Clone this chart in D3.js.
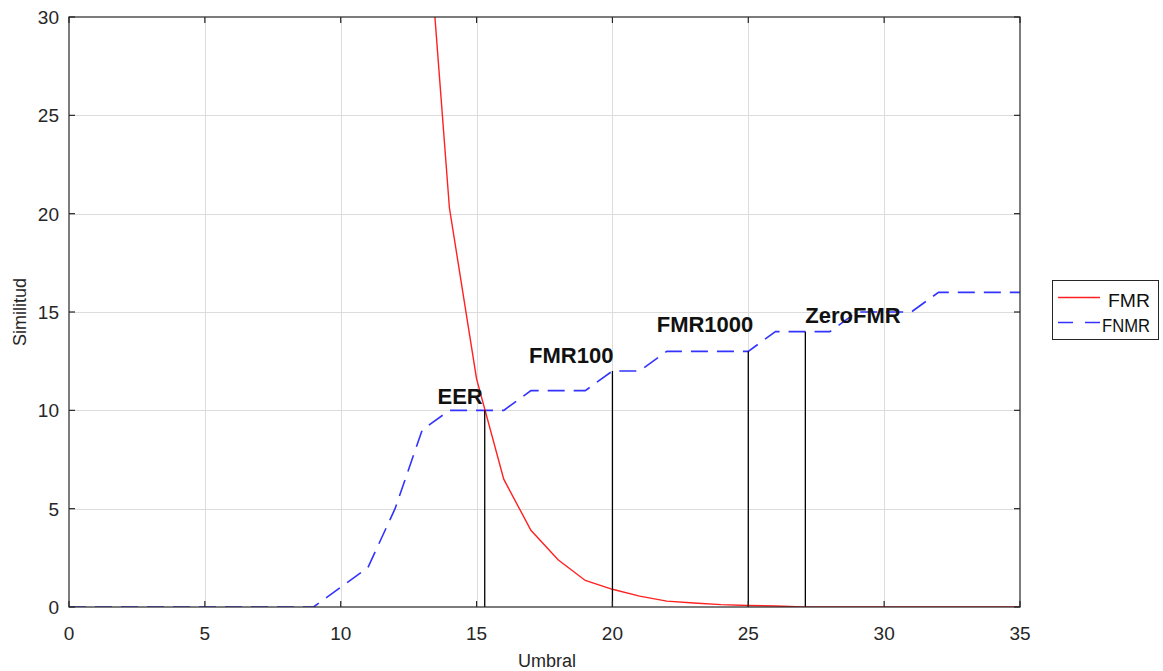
<!DOCTYPE html>
<html>
<head>
<meta charset="utf-8">
<script src="https://cdn.jsdelivr.net/npm/d3@7"></script>
<style>
  html, body { margin: 0; padding: 0; background: #fff; }
  svg { display: block; }
</style>
</head>
<body>
<svg id="chart" width="1163" height="671"></svg>
<script>
// Threshold sweep (Umbral) and error-rate curves
const fmrThresholds = [13, 14, 15, 16, 17, 18, 19, 20, 21, 22, 23, 24, 25, 26, 27, 28, 29, 30, 31, 32, 33, 34, 35];
const fmrValues     = [38.5, 20.3, 11.6, 6.5, 3.9, 2.4, 1.35, 0.9, 0.55, 0.3, 0.2, 0.12, 0.08, 0.05, 0, 0, 0, 0, 0, 0, 0, 0, 0];

const fnmrThresholds = [0, 1, 2, 3, 4, 5, 6, 7, 8, 9, 10, 11, 12, 13, 14, 15, 16, 17, 18, 19, 20, 21, 22, 23, 24, 25, 26, 27, 28, 29, 30, 31, 32, 33, 34, 35];
const fnmrValues     = [0, 0, 0, 0, 0, 0, 0, 0, 0, 0, 1, 2, 5, 9, 10, 10, 10, 11, 11, 11, 12, 12, 13, 13, 13, 13, 14, 14, 14, 15, 15, 15, 16, 16, 16, 16];

// Operating points: threshold, height of the marker line, label text and label height
const markerNames  = ["EER", "FMR100", "FMR1000", "ZeroFMR"];
const markerX      = [15.3, 20, 25, 27.1];
const markerTop    = [10, 12, 13, 14];
const markerLabelY = [10.3, 12.4, 14.0, 14.45];

const xTicks = [0, 5, 10, 15, 20, 25, 30, 35];
const yTicks = [0, 5, 10, 15, 20, 25, 30];
const seriesNames = ["FMR", "FNMR"];

const svg = d3.select("#chart");
const m = { left: 69, right: 1020, top: 17, bottom: 607 };
const axisColor = "#262626";
const fontFam = "'Liberation Sans', Arial, Helvetica, sans-serif";

const x = d3.scaleLinear().domain([0, 35]).range([m.left, m.right]);
const y = d3.scaleLinear().domain([0, 30]).range([m.bottom, m.top]);

svg.append("defs").append("clipPath").attr("id", "plot-clip")
  .append("rect").attr("x", m.left).attr("y", m.top)
  .attr("width", m.right - m.left).attr("height", m.bottom - m.top);

// Grid
const grid = svg.append("g").attr("stroke", "#dcdcdc").attr("stroke-width", 1);
grid.selectAll("line.gx").data(xTicks.slice(1, -1)).join("line")
  .attr("x1", d => Math.round(x(d)) + 0.5).attr("x2", d => Math.round(x(d)) + 0.5)
  .attr("y1", m.top).attr("y2", m.bottom);
grid.selectAll("line.gy").data(yTicks.slice(1, -1)).join("line")
  .attr("y1", d => Math.round(y(d)) + 0.5).attr("y2", d => Math.round(y(d)) + 0.5)
  .attr("x1", m.left).attr("x2", m.right);

const plot = svg.append("g").attr("clip-path", "url(#plot-clip)");

// FNMR dashed
const fnmrLine = d3.line().x((d, i) => x(fnmrThresholds[i])).y(d => y(d));
plot.append("path").datum(fnmrValues)
  .attr("d", fnmrLine).attr("fill", "none")
  .attr("stroke", "#3333ff").attr("stroke-width", 1.6)
  .attr("stroke-dasharray", "17,9");

// FMR solid
const fmrLine = d3.line().x((d, i) => x(fmrThresholds[i])).y(d => y(d));
plot.append("path").datum(fmrValues)
  .attr("d", fmrLine).attr("fill", "none")
  .attr("stroke", "#ff2020").attr("stroke-width", 1.4);

// Operating point markers
const markers = svg.append("g");
markerNames.forEach((name, i) => {
  markers.append("line")
    .attr("x1", x(markerX[i])).attr("x2", x(markerX[i]))
    .attr("y1", y(0)).attr("y2", y(markerTop[i]))
    .attr("stroke", "#000").attr("stroke-width", 1.3);
  const anchor = name === "ZeroFMR" ? "start" : "end";
  const dx = name === "ZeroFMR" ? 0 : (name === "FMR1000" ? 5 : (name === "EER" ? -2 : 1));
  markers.append("text")
    .attr("x", x(markerX[i]) + dx).attr("y", y(markerLabelY[i]))
    .attr("text-anchor", anchor)
    .attr("font-family", fontFam).attr("font-weight", "bold")
    .attr("font-size", 22).attr("fill", "#111")
    .text(name);
});

// Axes box with inward ticks on all sides
const axes = svg.append("g").attr("stroke", axisColor).attr("stroke-width", 1.2).attr("fill", "none");
axes.append("rect").attr("x", m.left).attr("y", m.top)
  .attr("width", m.right - m.left).attr("height", m.bottom - m.top);
const tl = 6;
xTicks.forEach(t => {
  axes.append("line").attr("x1", x(t)).attr("x2", x(t)).attr("y1", m.bottom).attr("y2", m.bottom - tl);
  axes.append("line").attr("x1", x(t)).attr("x2", x(t)).attr("y1", m.top).attr("y2", m.top + tl);
});
yTicks.forEach(t => {
  axes.append("line").attr("x1", m.left).attr("x2", m.left + tl).attr("y1", y(t)).attr("y2", y(t));
  axes.append("line").attr("x1", m.right).attr("x2", m.right - tl).attr("y1", y(t)).attr("y2", y(t));
});

// Tick labels
const labels = svg.append("g").attr("font-family", fontFam).attr("font-size", 19).attr("fill", axisColor);
labels.selectAll("text.xt").data(xTicks).join("text")
  .attr("x", d => x(d)).attr("y", m.bottom + 33)
  .attr("text-anchor", "middle").text(d => d);
labels.selectAll("text.yt").data(yTicks).join("text")
  .attr("x", m.left - 10).attr("y", d => y(d) + 7)
  .attr("text-anchor", "end").text(d => d);

// Axis titles
svg.append("text").attr("x", 547).attr("y", 667)
  .attr("text-anchor", "middle").attr("font-family", fontFam).attr("font-size", 18)
  .attr("fill", axisColor).text("Umbral");
svg.append("text").attr("transform", `translate(26,${(m.top + m.bottom) / 2}) rotate(-90)`)
  .attr("text-anchor", "middle").attr("font-family", fontFam).attr("font-size", 18)
  .attr("fill", axisColor).text("Similitud");

// Legend
const lg = svg.append("g");
lg.append("rect").attr("x", 1052.5).attr("y", 280.5).attr("width", 106).attr("height", 59)
  .attr("fill", "#fff").attr("stroke", axisColor).attr("stroke-width", 1);
const legendStyles = [
  { color: "#ff2020", dash: null, width: 42 },
  { color: "#3333ff", dash: "15,12", width: 48 }
];
seriesNames.forEach((name, i) => {
  const ly = 297.5 + i * 25;
  lg.append("line").attr("x1", 1058).attr("x2", 1100).attr("y1", ly).attr("y2", ly)
    .attr("stroke", legendStyles[i].color).attr("stroke-width", 1.5)
    .attr("stroke-dasharray", legendStyles[i].dash);
  lg.append("text").attr("x", 1150).attr("y", ly + 9).attr("text-anchor", "end")
    .attr("font-family", fontFam).attr("font-size", 19).attr("fill", "#111")
    .attr("textLength", legendStyles[i].width).attr("lengthAdjust", "spacingAndGlyphs")
    .text(name);
});
</script>
</body>
</html>
